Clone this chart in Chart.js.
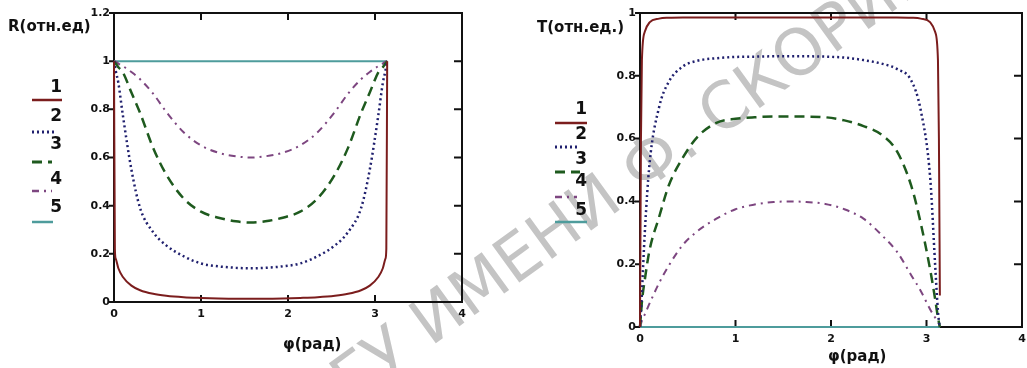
<!DOCTYPE html>
<html>
<head>
<meta charset="utf-8">
<script src="https://cdn.jsdelivr.net/npm/chart.js@4.4.1/dist/chart.umd.min.js"></script>
<style>
  html, body { margin: 0; padding: 0; background: #fff; }
  #wrap { position: relative; width: 1027px; height: 368px; overflow: hidden; }
  canvas { position: absolute; top: 0; }
  #wm { position: absolute; left: 285px; top: 380px; white-space: nowrap;
        font: 64px "DejaVu Sans", sans-serif; color: #c4c4c4;
        transform-origin: 0 0; transform: rotate(-36deg); }
</style>
</head>
<body>
<div id="wrap">
  <div id="wm">ГГУ ИМЕНИ Ф. СКОРИНЫ</div>
  <canvas id="chartR" width="500" height="368" style="left:0"></canvas>
  <canvas id="chartT" width="540" height="368" style="left:500px"></canvas>
</div>
<script>
// angle, rad
var phi = [0, 0.01, 0.02, 0.05, 0.1, 0.2, 0.3, 0.45, 0.6, 0.8, 1.0, 1.2, 1.4, 1.57,
           1.74, 1.94, 2.14, 2.34, 2.54, 2.69, 2.84, 2.94, 3.04, 3.09, 3.12, 3.13, 3.14];

// reflection R (left plot)
var r1 = [1, 0.22, 0.18, 0.14, 0.105, 0.068, 0.049, 0.034, 0.026, 0.02, 0.017, 0.015, 0.014, 0.014,
          0.014, 0.015, 0.017, 0.02, 0.026, 0.034, 0.049, 0.068, 0.105, 0.14, 0.18, 0.22, 1];
var r2 = [1, 0.98, 0.96, 0.91, 0.78, 0.55, 0.39, 0.29, 0.235, 0.19, 0.16, 0.148, 0.142, 0.14,
          0.142, 0.148, 0.16, 0.19, 0.235, 0.29, 0.39, 0.55, 0.78, 0.91, 0.96, 0.98, 1];
var r3 = [1, 0.995, 0.99, 0.975, 0.955, 0.87, 0.785, 0.64, 0.53, 0.43, 0.375, 0.35, 0.335, 0.33,
          0.335, 0.35, 0.375, 0.43, 0.53, 0.64, 0.785, 0.87, 0.955, 0.975, 0.99, 0.995, 1];
var r4 = [1, 1, 0.998, 0.99, 0.98, 0.955, 0.925, 0.865, 0.79, 0.705, 0.65, 0.62, 0.605, 0.6,
          0.605, 0.62, 0.65, 0.705, 0.79, 0.865, 0.925, 0.955, 0.98, 0.99, 0.998, 1, 1];
var r5 = [1, 1, 1, 1, 1, 1, 1, 1, 1, 1, 1, 1, 1, 1,
          1, 1, 1, 1, 1, 1, 1, 1, 1, 1, 1, 1, 1];

// transmission T (right plot)
var t1 = [0, 0.6, 0.85, 0.94, 0.97, 0.982, 0.985, 0.986, 0.986, 0.986, 0.986, 0.986, 0.986, 0.986,
          0.986, 0.986, 0.986, 0.986, 0.986, 0.986, 0.985, 0.982, 0.97, 0.94, 0.85, 0.6, 0.1];
var t2 = [0, 0.05, 0.11, 0.3, 0.52, 0.7, 0.78, 0.83, 0.848, 0.856, 0.86, 0.861, 0.862, 0.862,
          0.862, 0.861, 0.858, 0.85, 0.838, 0.822, 0.785, 0.69, 0.47, 0.2, 0.05, 0.02, 0];
var t3 = [0, 0.04, 0.08, 0.15, 0.245, 0.35, 0.45, 0.54, 0.605, 0.65, 0.663, 0.668, 0.67, 0.67,
          0.67, 0.668, 0.658, 0.64, 0.61, 0.56, 0.45, 0.33, 0.18, 0.09, 0.03, 0.015, 0];
var t4 = [0, 0.01, 0.02, 0.04, 0.075, 0.14, 0.195, 0.262, 0.305, 0.345, 0.375, 0.39, 0.398, 0.4,
          0.398, 0.392, 0.375, 0.345, 0.29, 0.24, 0.165, 0.115, 0.055, 0.03, 0.015, 0.01, 0];
var t5 = [0, 0, 0, 0, 0, 0, 0, 0, 0, 0, 0, 0, 0, 0,
          0, 0, 0, 0, 0, 0, 0, 0, 0, 0, 0, 0, 0];

var seriesNames = ['1', '2', '3', '4', '5'];
var styles = [
  { color: '#7b1d1d', dash: [], width: 2 },
  { color: '#20206e', dash: [2, 3], width: 2.5 },
  { color: '#1e5a1e', dash: [10, 6], width: 2.5 },
  { color: '#7d4680', dash: [7, 5, 2, 5], width: 2 },
  { color: '#4e9c9c', dash: [], width: 2 }
];

var FONT = 'DejaVu Sans';

// box with inward ticks, Mathcad style
var frame = {
  id: 'frame',
  beforeDatasetsDraw: function(chart) {
    var a = chart.chartArea, ctx = chart.ctx;
    var xs = chart.scales.x, ys = chart.scales.y;
    ctx.save();
    ctx.strokeStyle = '#111';
    ctx.lineWidth = 2;
    ctx.strokeRect(a.left, a.top, a.right - a.left, a.bottom - a.top);
    ctx.beginPath();
    xs.ticks.forEach(function(t) {
      var px = xs.getPixelForValue(t.value);
      ctx.moveTo(px, a.bottom); ctx.lineTo(px, a.bottom - 7);
      ctx.moveTo(px, a.top); ctx.lineTo(px, a.top + 7);
    });
    ys.ticks.forEach(function(t) {
      var py = ys.getPixelForValue(t.value);
      ctx.moveTo(a.left - 5, py); ctx.lineTo(a.left, py);
      ctx.moveTo(a.right, py); ctx.lineTo(a.right - 8, py);
    });
    ctx.stroke();
    ctx.restore();
  }
};

// axis titles and the numbered legend
var notes = {
  id: 'notes',
  afterDraw: function(chart, args, o) {
    var ctx = chart.ctx;
    ctx.save();
    ctx.fillStyle = '#111';
    ctx.textBaseline = 'middle';
    ctx.font = 'bold 15px "' + FONT + '"';
    ctx.textAlign = 'left';
    ctx.fillText(o.yTitle, o.yTitleX, o.yTitleY);
    ctx.fillText(o.xTitle, o.xTitleX, o.xTitleY);
    ctx.font = 'bold 17px "' + FONT + '"';
    ctx.textAlign = 'right';
    seriesNames.forEach(function(n, i) {
      var s = styles[i];
      ctx.fillText(n, o.legX1, o.numY[i]);
      ctx.beginPath();
      ctx.setLineDash(s.dash);
      ctx.strokeStyle = s.color;
      ctx.lineWidth = s.width + 0.5;
      ctx.moveTo(o.legX0, o.lineY[i]);
      ctx.lineTo(o.legX1 - o.cut[i], o.lineY[i]);
      ctx.stroke();
    });
    ctx.restore();
  }
};

function fmt(v) { return String(+v.toFixed(1)); }

function makeChart(id, series, yMax, pad, note) {
  var datasets = series.map(function(vals, i) {
    return {
      label: seriesNames[i],
      data: phi.map(function(p, k) { return { x: p, y: vals[k] }; }),
      borderColor: styles[i].color,
      borderDash: styles[i].dash,
      borderWidth: styles[i].width,
      pointRadius: 0,
      cubicInterpolationMode: 'monotone',
      fill: false,
      clip: false
    };
  });
  var tickFont = { family: FONT, size: 11, weight: 'bold' };
  return new Chart(document.getElementById(id).getContext('2d'), {
    type: 'line',
    data: { datasets: datasets },
    options: {
      responsive: false,
      animation: false,
      layout: { padding: pad },
      plugins: { legend: { display: false }, tooltip: { enabled: false }, notes: note },
      scales: {
        x: {
          type: 'linear', min: 0, max: 4,
          afterFit: function(s) { s.height = 22; },
          grid: { display: false, drawTicks: false },
          border: { display: false },
          ticks: { stepSize: 1, padding: 6, color: '#111', font: tickFont }
        },
        y: {
          min: 0, max: yMax,
          afterFit: function(s) { s.width = 30; },
          grid: { display: false, drawTicks: false },
          border: { display: false },
          ticks: { stepSize: 0.2, padding: 4, color: '#111', font: tickFont, callback: fmt }
        }
      }
    },
    plugins: [frame, notes]
  });
}

document.addEventListener('DOMContentLoaded', function() {
  makeChart('chartR', [r1, r2, r3, r4, r5], 1.2,
    { left: 84, top: 13, right: 38, bottom: 44 },
    { yTitle: 'R(отн.ед)', yTitleX: 8, yTitleY: 27,
      xTitle: 'φ(рад)', xTitleX: 283, xTitleY: 345,
      legX0: 32, legX1: 62, numY: [88, 117, 145, 180, 208],
      lineY: [100, 132, 162, 191, 222], cut: [0, 7, 10, 10, 9] });
  makeChart('chartT', [t1, t2, t3, t4, t5], 1,
    { left: 110, top: 13, right: 18, bottom: 19 },
    { yTitle: 'T(отн.ед.)', yTitleX: 37, yTitleY: 28,
      xTitle: 'φ(рад)', xTitleX: 328, xTitleY: 357,
      legX0: 55, legX1: 87, numY: [110, 135, 160, 182, 211],
      lineY: [123, 147, 172, 197, 222], cut: [0, 7, 7, 10, 0] });
});
</script>
</body>
</html>
